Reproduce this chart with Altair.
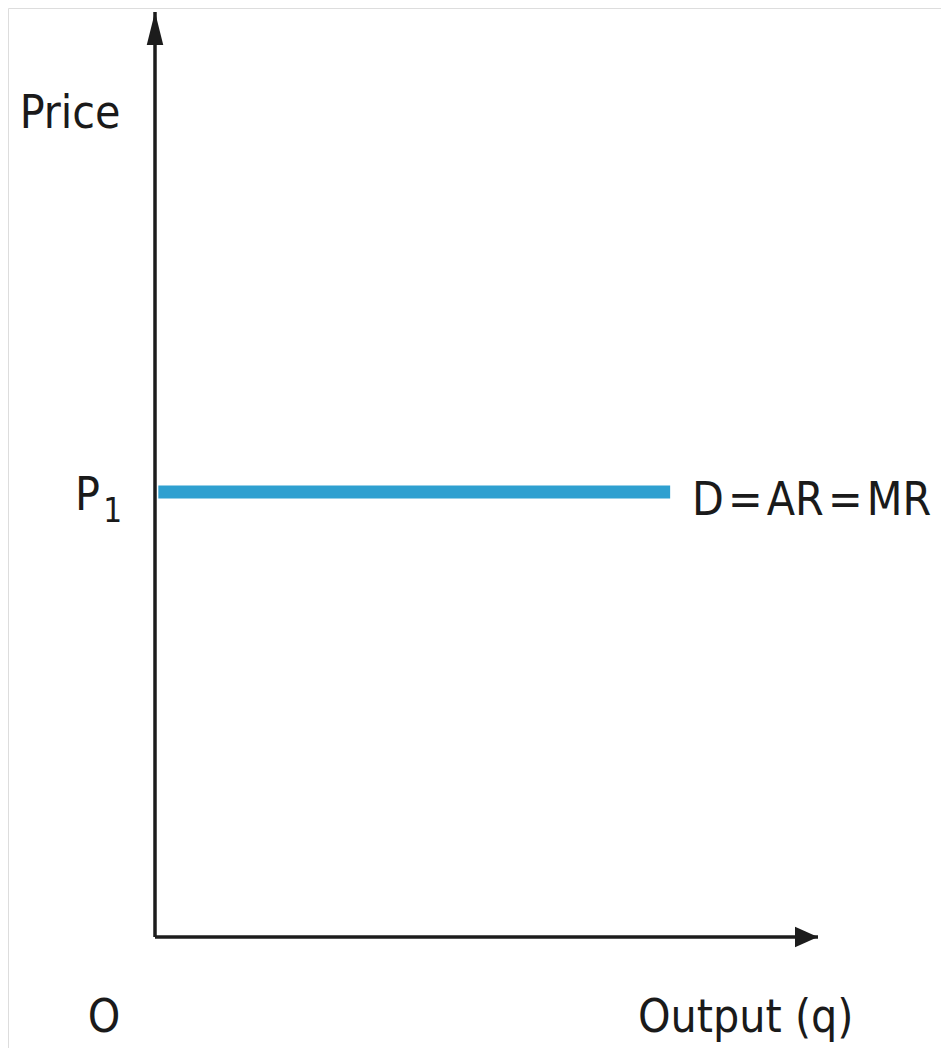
import altair as alt
import pandas as pd

# ---- data (economic units: quantity 0-10, price 0-10) ----
axis_x_end = [0, 10]          # output axis from origin to arrow tip
axis_y_end = [0, 10]          # price axis from origin to arrow tip
price_p1 = 4.81               # price level P1
demand_q = [0.05, 7.77]       # extent of the D = AR = MR line

label_text = ["Price", "P", "1", "D\u200a=\u200aAR\u200a=\u200aMR", "O", "Output (q)"]
label_x = [-1.28, -0.83, -0.78, 8.10, -0.77, 8.91]
label_y = [8.75, 4.616, 4.49, 4.56, -1.03, -1.03]
label_align = ["center", "right", "left", "left", "center", "center"]
label_size = [46, 46, 33, 46, 46, 46]

FONT = "DejaVu Sans Condensed"
AXIS_COLOR = "#1c1c1c"
LINE_COLOR = "#2fa0d0"

xs = alt.Scale(domain=[0, 10], range=[147, 810], nice=False, zero=False)
ys = alt.Scale(domain=[0, 10], range=[929, 4], nice=False, zero=False)

x_axis_df = pd.DataFrame({"x": [axis_x_end[0]], "x2": [axis_x_end[1]], "y": [0]})
y_axis_df = pd.DataFrame({"x": [0], "y": [axis_y_end[0]], "y2": [axis_y_end[1]]})
demand_df = pd.DataFrame({"x": [demand_q[0]], "x2": [demand_q[1]], "y": [price_p1]})
x_tip_df = pd.DataFrame({"x": [axis_x_end[1]], "y": [0]})
y_tip_df = pd.DataFrame({"x": [0], "y": [axis_y_end[1]]})
labels_df = pd.DataFrame({"t": label_text, "x": label_x, "y": label_y,
                          "a": label_align, "s": label_size})

x_axis = alt.Chart(x_axis_df).mark_rule(color=AXIS_COLOR, strokeWidth=3.5).encode(
    x=alt.X("x:Q", scale=xs, axis=None), x2="x2:Q", y=alt.Y("y:Q", scale=ys, axis=None))
y_axis = alt.Chart(y_axis_df).mark_rule(color=AXIS_COLOR, strokeWidth=3.5).encode(
    x=alt.X("x:Q", scale=xs, axis=None), y=alt.Y("y:Q", scale=ys, axis=None), y2="y2:Q")

x_tip = alt.Chart(x_tip_df).mark_point(
    shape="M0,0L-2,-0.9L-2,0.9Z", size=529, filled=True, color=AXIS_COLOR, opacity=1
).encode(x=alt.X("x:Q", scale=xs, axis=None), y=alt.Y("y:Q", scale=ys, axis=None))
y_tip = alt.Chart(y_tip_df).mark_point(
    shape="M0,0L0.5,2L-0.5,2Z", size=1089, filled=True, color=AXIS_COLOR, opacity=1
).encode(x=alt.X("x:Q", scale=xs, axis=None), y=alt.Y("y:Q", scale=ys, axis=None))

demand = alt.Chart(demand_df).mark_rule(color=LINE_COLOR, strokeWidth=13, strokeCap="butt").encode(
    x=alt.X("x:Q", scale=xs, axis=None), x2="x2:Q", y=alt.Y("y:Q", scale=ys, axis=None))

texts = []
for a in ["left", "center", "right"]:
    sub = labels_df[labels_df["a"] == a]
    if len(sub) == 0:
        continue
    texts.append(
        alt.Chart(sub).mark_text(align=a, baseline="alphabetic", font=FONT, color="#1a1a1a").encode(
            x=alt.X("x:Q", scale=xs, axis=None),
            y=alt.Y("y:Q", scale=ys, axis=None),
            text="t:N",
            size=alt.Size("s:Q", scale=None, legend=None),
        )
    )

chart = alt.layer(x_axis, y_axis, demand, x_tip, y_tip, *texts).properties(
    width=933, height=1040, autosize=alt.AutoSizeParams(type="none"), padding=0
).configure_view(stroke=None, strokeWidth=0).configure(background="white")

chart.save("out.html", embed_options={"renderer": "svg", "actions": False})
